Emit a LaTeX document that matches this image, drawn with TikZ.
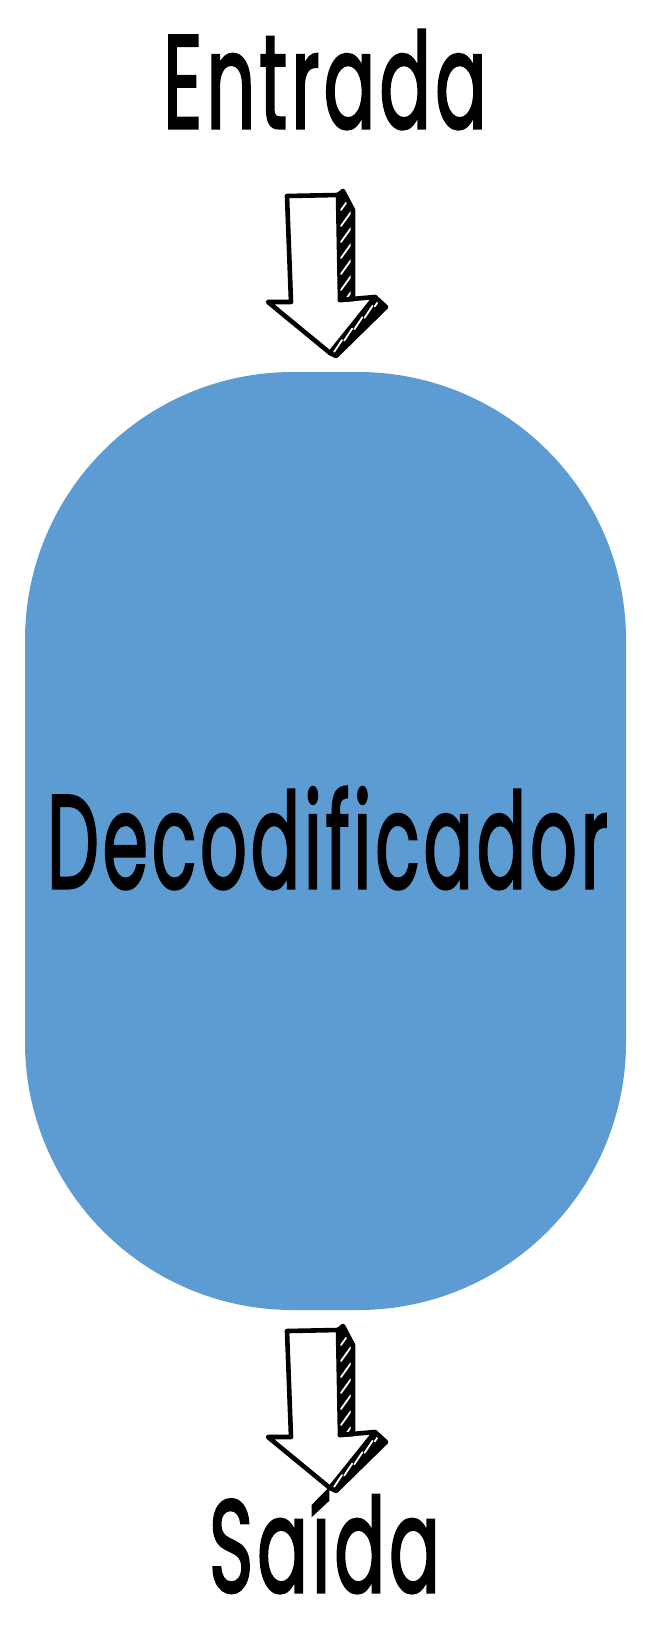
\documentclass[tikz,border=0pt]{standalone}
\usepackage{fontspec}
\usepackage{graphicx}
\newfontfamily\handfont{Poppins}[FakeBold=2.3, LetterSpace=5]
\definecolor{blobblue}{RGB}{93,155,211}
\newlength\fbw
\newlength\fbh
\newcommand\fitbox[3]{\settowidth\fbw{#3}\settoheight\fbh{d}\scalebox{\fpeval{#1/\fbw}}[\fpeval{#2/\fbh}]{#3}}
\tikzset{
  sketch/.style={draw=black, line width=4.6pt, line join=round, line cap=round},
  stripe/.style={white, line width=1.8pt, line cap=round},
  txt/.style={inner sep=0pt, outer sep=0pt, anchor=base west, font=\handfont},
  pics/downarrow/.style={code={
    % front face
    \filldraw[sketch, fill=white] (0,0) -- (51,-1) -- (53,104) -- (88,101) -- (43,157) -- (-19,106) -- (4,106) -- cycle;
    % side face (hatched)
    \begin{scope}
      \clip (51,-1) -- (56,-5) -- (66,14) -- (66,103) -- (53,104) -- cycle;
      \fill[black] (40,-20) rectangle (80,120);
      \foreach \t in {0,16,...,112} {\draw[stripe] (54,\t+14) -- (64,\t);}
    \end{scope}
    \draw[sketch] (51,-1) -- (56,-5) -- (66,14) -- (66,103) -- (53,104);
    % head band (hatched)
    \begin{scope}
      \clip (88,101) -- (99,111) -- (49,160) -- (43,157) -- cycle;
      \fill[black] (30,90) rectangle (110,170);
      \foreach \t in {0,12,...,60} {\draw[stripe] (47+\t*0.85,156-\t*0.95) -- (55+\t*0.85,144-\t*0.95);}
    \end{scope}
    \draw[sketch] (88,101) -- (99,111) -- (49,160) -- (43,157);
  }}
}
\begin{document}
\begin{tikzpicture}[x=1pt, y=-1pt]
  \useasboundingbox (0,0) rectangle (656,1646);
  \fill[white] (0,0) rectangle (656,1646);

  \node[txt] (entrada) at (163,128) {\fitbox{324pt}{98pt}{Entrada}};

  \pic at (287,196) {downarrow};

  \node[fill=blobblue, rounded corners=268pt, inner sep=0pt, outer sep=0pt,
        minimum width=601pt, minimum height=938pt] (dec) at (325.5,841) {};
  \node[txt] (dectxt) at (47,888) {\fitbox{561pt}{98pt}{Decodificador}};

  \pic at (287,1331) {downarrow};

  \node[txt] (saida) at (209,1592) {\fitbox{231pt}{97pt}{Saída}};
\end{tikzpicture}
\end{document}
